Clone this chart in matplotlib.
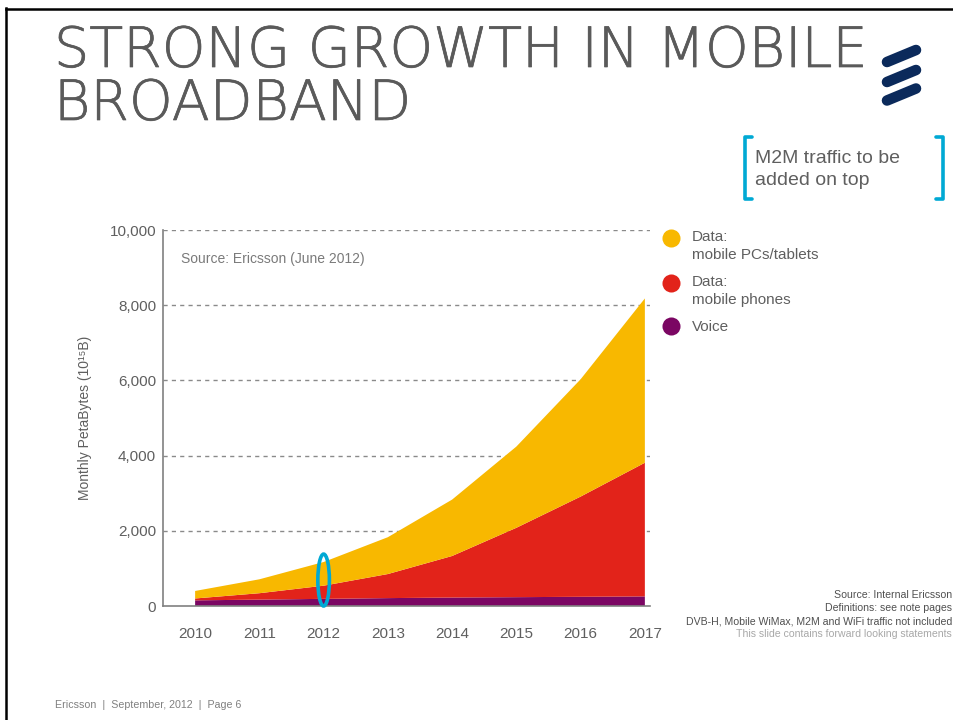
import matplotlib
matplotlib.use("Agg")
import matplotlib.pyplot as plt
import matplotlib.patheffects as pe
from matplotlib.patches import Ellipse
from matplotlib.lines import Line2D
from matplotlib import font_manager as fm

# ---- data ----
years = [2010, 2011, 2012, 2013, 2014, 2015, 2016, 2017]
voice = [150, 170, 190, 210, 225, 235, 245, 255]
data_phones = [50, 170, 350, 640, 1105, 1845, 2665, 3555]
data_pcs = [200, 370, 630, 980, 1500, 2160, 3120, 4370]
series_labels = ["Data:\nmobile PCs/tablets", "Data:\nmobile phones", "Voice"]
yticks = [0, 2000, 4000, 6000, 8000, 10000]
ytick_labels = ["0", "2,000", "4,000", "6,000", "8,000", "10,000"]

C_PCS = "#F8B800"
C_PHONES = "#E2231A"
C_VOICE = "#7B0663"
C_CYAN = "#00A9D4"
C_NAVY = "#0B2A5B"
GRAY = "#5f5f5f"

W, H = 954, 720
fig = plt.figure(figsize=(W / 100, H / 100), dpi=100)
fig.patch.set_facecolor("white")


def fx(x):
    return x / W


def fy(y):
    return 1 - y / H


plt.rcParams["font.family"] = ["Liberation Sans", "DejaVu Sans"]

# slide frame
fig.add_artist(Line2D([fx(6), fx(960)], [fy(8.5), fy(8.5)], color="black", lw=1.8))
fig.add_artist(Line2D([fx(6.5), fx(6.5)], [fy(8), fy(725)], color="black", lw=1.8))

# title (wide, light face if available)
TCOL = "#5a5a5a"
light_dejavu = any(f.name == "DejaVu Sans" and f.weight in (200, "extra-light", "ultralight")
                   for f in fm.fontManager.ttflist)
if light_dejavu:
    tfam, tw, stroke, tsize = ["DejaVu Sans"], 200, 0.5, 40
else:
    tfam, tw, stroke, tsize = ["Lato", "DejaVu Sans"], "light", 1.1, 41
thick = [pe.withStroke(linewidth=stroke, foreground=TCOL)]
for txt, base in [("STRONG GROWTH IN MOBILE", 67), ("BROADBAND", 120)]:
    fig.text(fx(54), fy(base), txt, fontsize=tsize, color=TCOL,
             family=tfam, fontweight=tw, va="baseline",
             ha="left", path_effects=thick)

# logo
for (x0, y0, x1, y1) in [(887, 62, 916, 50), (887, 82, 916, 70), (887, 100.5, 916, 88.5)]:
    fig.add_artist(Line2D([fx(x0), fx(x1)], [fy(y0), fy(y1)], color=C_NAVY,
                          lw=7.6, solid_capstyle="round"))

# M2M bracket box
bl, br, bt, bb = 745, 943, 137, 199
fig.add_artist(Line2D([fx(bl + 7), fx(bl), fx(bl), fx(bl + 7)],
                      [fy(bt), fy(bt), fy(bb), fy(bb)], color=C_CYAN, lw=2.6,
                      solid_joinstyle="round", solid_capstyle="round"))
fig.add_artist(Line2D([fx(br - 7), fx(br), fx(br), fx(br - 7)],
                      [fy(bt), fy(bt), fy(bb), fy(bb)], color=C_CYAN, lw=2.6,
                      solid_joinstyle="round", solid_capstyle="round"))
fig.text(fx(755), fy(169.5), "M2M traffic to be\nadded on top", fontsize=14, color=GRAY,
         va="center", ha="left", linespacing=1.45)

# axes
ax = fig.add_axes([fx(163), fy(606), fx(650) - fx(163), fy(230) - fy(606)])
ax.stackplot(years, voice, data_phones, data_pcs, colors=[C_VOICE, C_PHONES, C_PCS],
             linewidth=0)
ax.set_xlim(2009.5, 2017.08)
ax.set_ylim(0, 10000)
ax.set_yticks(yticks)
ax.set_yticklabels(ytick_labels)
ax.set_xticks(years)
ax.set_xticklabels([str(y) for y in years])
ax.tick_params(axis="both", length=0, labelsize=11, colors=GRAY)
ax.tick_params(axis="y", pad=5)
ax.tick_params(axis="x", pad=15)
for s in ["top", "right"]:
    ax.spines[s].set_visible(False)
for s in ["left", "bottom"]:
    ax.spines[s].set_color("#808080")
    ax.spines[s].set_linewidth(1.2)
for yv in yticks[1:]:
    ax.axhline(yv, color="#8a8a8a", lw=1, ls=(0, (3, 3)), zorder=0)
ax.set_ylabel("Monthly PetaBytes (10\u00b9\u2075B)", fontsize=10, color=GRAY,
              family=["Liberation Sans", "DejaVu Sans"])
ax.yaxis.set_label_coords(-(163 - 92) / (650 - 163), 0.5)
ax.text(2009.78, 9230, "Source: Ericsson (June 2012)", fontsize=10, color="#7a7a7a",
        va="center", ha="left")

# highlight ellipse at 2012
ax.add_patch(Ellipse((2012, 690), width=0.18, height=1380, fill=False,
                     edgecolor=C_CYAN, lw=2.6, clip_on=False, zorder=5))

# legend
leg_items = [(238, C_PCS, series_labels[0]), (283, C_PHONES, series_labels[1]),
             (326, C_VOICE, series_labels[2])]
for (yy, col, lab) in leg_items:
    fig.add_artist(Line2D([fx(671)], [fy(yy)], marker="o", markersize=13,
                          color=col, markeredgewidth=0, linestyle="none"))
    if "\n" in lab:
        fig.text(fx(692), fy(yy + 8), lab, fontsize=11, color=GRAY, va="center",
                 ha="left", linespacing=1.3)
    else:
        fig.text(fx(692), fy(yy + 1), lab, fontsize=11, color=GRAY, va="center", ha="left")

# notes
notes = ["Source: Internal Ericsson", "Definitions: see note pages",
         "DVB-H, Mobile WiMax, M2M and WiFi traffic not included",
         "This slide contains forward looking statements"]
for i, t in enumerate(notes):
    fig.text(fx(952), fy(595 + 13 * i), t, fontsize=7.6,
             color="#505050" if i < 3 else "#a8a8a8", ha="right", va="center")

# footer
fig.text(fx(55), fy(705), "Ericsson  |  September, 2012  |  Page 6", fontsize=7.7,
         color="#808080", ha="left", va="center")

fig.savefig("out.png", dpi=100)
